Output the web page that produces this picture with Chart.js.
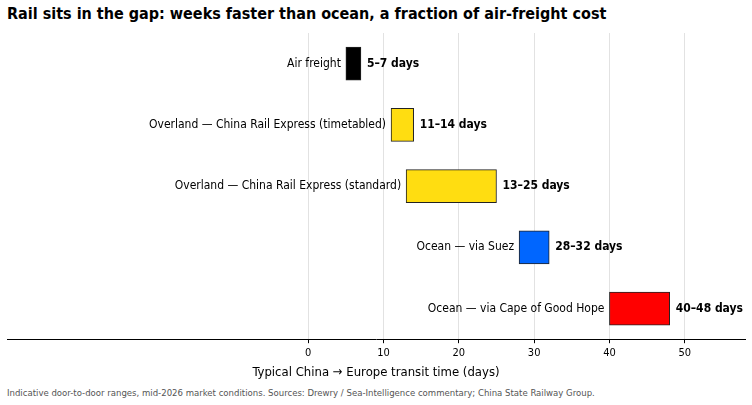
<!DOCTYPE html>
<html><head><meta charset="utf-8">
<script src="https://cdn.jsdelivr.net/npm/chart.js@4"></script>
<style>
body{margin:0;background:#fff;font-family:"Liberation Sans Narrow","DejaVu Sans Condensed",Roboto,sans-serif;}
#wrap{position:relative;width:752px;height:405px;}
h1{position:absolute;left:7px;top:4px;margin:0;font-size:16px;font-weight:bold;}
#note{position:absolute;left:7px;top:387px;font-size:9.5px;color:#555;}
#box{position:absolute;left:0;top:28px;width:752px;height:356px;}
</style></head><body>
<div id="wrap">
<h1>Rail sits in the gap: weeks faster than ocean, a fraction of air-freight cost</h1>
<div id="box"><canvas id="c" width="752" height="356"></canvas></div>
<div id="note">Indicative door-to-door ranges, mid-2026 market conditions. Sources: Drewry / Sea-Intelligence commentary; China State Railway Group.</div>
</div>
<script>
const modes = ["Air freight", "Overland — China Rail Express (timetabled)", "Overland — China Rail Express (standard)", "Ocean — via Suez", "Ocean — via Cape of Good Hope"];
const minDays = [5, 11, 13, 28, 40];
const maxDays = [7, 14, 25, 32, 48];
const rangeLabels = ["5–7 days", "11–14 days", "13–25 days", "28–32 days", "40–48 days"];
const colors = ["#000000", "#ffdd11", "#ffdd11", "#0066ff", "#ff0000"];
const fontFam = '"Liberation Sans Narrow","DejaVu Sans Condensed",Roboto,sans-serif';

const labelPlugin = {
    id: "labels",
    afterDatasetsDraw(chart) {
        const ctx = chart.ctx;
        const meta = chart.getDatasetMeta(0);
        ctx.save();
        ctx.textBaseline = "middle";
        meta.data.forEach((bar, i) => {
            const left = Math.min(bar.x, bar.base), right = Math.max(bar.x, bar.base);
            ctx.fillStyle = "#000";
            ctx.font = "12px " + fontFam;
            ctx.textAlign = "right";
            ctx.fillText(modes[i], left - 5, bar.y);
            ctx.font = "bold 12px " + fontFam;
            ctx.textAlign = "left";
            ctx.fillText(rangeLabels[i], right + 6, bar.y);
        });
        ctx.restore();
    }
};

new Chart(document.getElementById("c"), {
    type: "bar",
    data: {
        labels: modes,
        datasets: [{
            data: modes.map((_, i) => [minDays[i], maxDays[i]]),
            backgroundColor: colors,
            borderColor: "#222",
            borderWidth: 1,
            borderSkipped: false,
            barThickness: 33,
        }],
    },
    options: {
        indexAxis: "y",
        responsive: false,
        animation: false,
        layout: { padding: { left: 7, right: 7, top: 5 } },
        scales: {
            x: {
                min: -40, max: 58,
                afterBuildTicks: (ax) => { ax.ticks = [0, 10, 20, 30, 40, 50].map(v => ({ value: v })); },
                grid: { color: "#e2e2e2", drawTicks: true, tickColor: "#000", tickLength: 4 },
                border: { color: "#000" },
                ticks: { color: "#000", font: { family: fontFam, size: 11 } },
                title: { display: true, text: "Typical China → Europe transit time (days)", color: "#000", font: { family: fontFam, size: 13 }, padding: { top: 2 } },
            },
            y: { display: false },
        },
        plugins: { legend: { display: false }, tooltip: { enabled: false } },
    },
    plugins: [labelPlugin],
});
</script>
</body></html>
